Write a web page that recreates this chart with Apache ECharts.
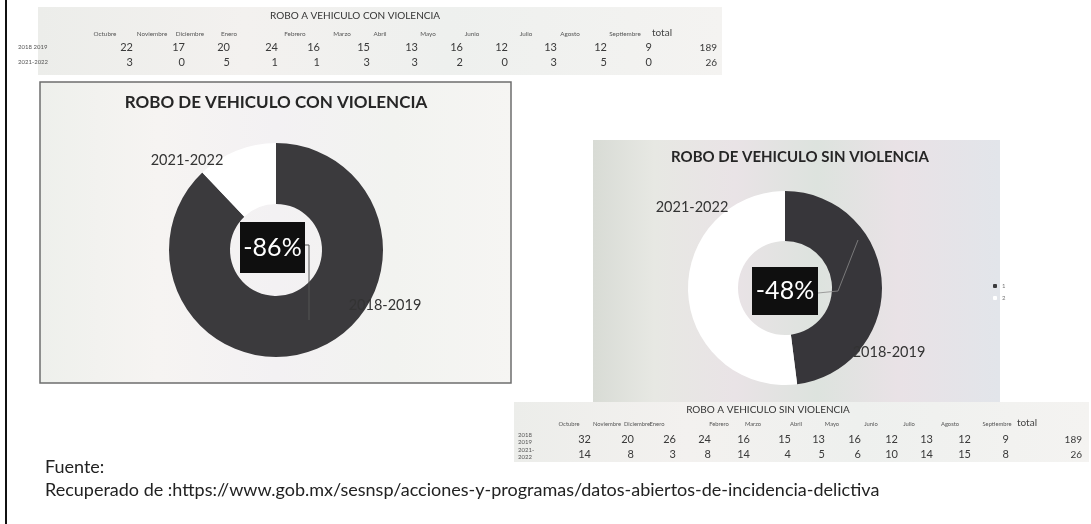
<!DOCTYPE html>
<html><head><meta charset="utf-8">
<script src="https://cdn.jsdelivr.net/npm/echarts@6/dist/echarts.min.js"></script>
<style>html,body{margin:0;padding:0;background:#fff}#c{width:1091px;height:524px}</style>
</head><body><div id="c"></div>
<script>
// ---------- DATA ----------
const months = ['Octubre','Noviembre','Diciembre','Enero','Febrero','Marzo','Abril','Mayo','Junio','Julio','Agosto','Septiembre'];
const periods = ['2018-2019','2021-2022'];
const conViol1819 = [22,17,20,24,16,15,13,16,12,13,12,9];
const conViol2122 = [3,0,5,1,1,3,3,2,0,3,5,0];
const conTotals = [189, 26];
const sinViol1819 = [32,20,26,24,16,15,13,16,12,13,12,9];
const sinViol2122 = [14,8,3,8,14,4,5,6,10,14,15,8];
const sinTotals = [189, 26];          // as printed in the source table
const donutConValues = [189, 26];
const donutSinValues = [48, 52];      // slice shares as drawn in the source image
const tableTitleCon = 'ROBO A VEHICULO CON VIOLENCIA';
const tableTitleSin = 'ROBO A VEHICULO SIN VIOLENCIA';
const chartTitleCon = 'ROBO DE VEHICULO CON VIOLENCIA';
const chartTitleSin = 'ROBO DE VEHICULO SIN VIOLENCIA';
const sourceLines = ['Fuente:', 'Recuperado de :https://www.gob.mx/sesnsp/acciones-y-programas/datos-abiertos-de-incidencia-delictiva'];

const sum = a => a.reduce((s, v) => s + v, 0);
const pctCon = Math.round((sum(conViol2122) - sum(conViol1819)) / sum(conViol1819) * 100) + '%';
const pctSin = Math.round((sum(sinViol2122) - sum(sinViol1819)) / sum(sinViol1819) * 100) + '%';

// ---------- LAYOUT ----------
const FONT = 'Lato, "Open Sans", sans-serif';
const topTable = {
  title: tableTitleCon, titleX: 355, titleY: 16, titleFont: 10, headerY: 34, headerFont: 6.3, rowY: [47, 62],
  headerX: [105,152,190,229,295,342,380,428,472,526,570,625], totalHeaderX: 662,
  valueRight: [133,185,230,278,320,370,418,463,508,557,607,652], totalRight: 717,
  labelX: 18, labels: [['2018 2019'], ['2021-2022']],
  rows: [conViol1819, conViol2122], totals: conTotals,
  bg: [38, 7, 684, 68]
};
const botTable = {
  title: tableTitleSin, titleX: 768, titleY: 410, titleFont: 10, headerY: 424, headerFont: 5.8, rowY: [439, 454],
  headerX: [569,607,637,657,719,753,796,832,871,909,950,997], totalHeaderX: 1027,
  valueRight: [591,634,676,711,750,791,825,861,898,933,971,1009], totalRight: 1082,
  labelX: 518, labels: [['2018','2019'], ['2021-','2022']],
  rows: [sinViol1819, sinViol2122], totals: sinTotals,
  bg: [514, 402, 575, 60]
};

function tableGraphics(t) {
  const g = [];
  g.push({type:'rect', shape:{x:t.bg[0], y:t.bg[1], width:t.bg[2], height:t.bg[3]},
    style:{fill:new echarts.graphic.LinearGradient(0,0,1,0,[
      {offset:0,color:'#ecedea'},{offset:0.3,color:'#f3f1ef'},{offset:0.6,color:'#eef0ee'},{offset:1,color:'#f4f3f1'}])}, z:0});
  g.push({type:'text', x:t.titleX, y:t.titleY, style:{text:t.title, font:t.titleFont+'px '+FONT, fill:'#333', align:'center', verticalAlign:'middle'}, z:2});
  months.forEach((m,i)=>g.push({type:'text', x:t.headerX[i], y:t.headerY,
    style:{text:m, font:t.headerFont+'px '+FONT, fill:'#555', align:'center', verticalAlign:'middle'}, z:2}));
  g.push({type:'text', x:t.totalHeaderX, y:t.headerY-1, style:{text:'total', font:'10px '+FONT, fill:'#444', align:'center', verticalAlign:'middle'}, z:2});
  t.rows.forEach((row,r)=>{
    const lab = t.labels[r];
    lab.forEach((l,k)=>g.push({type:'text', x:t.labelX, y:t.rowY[r] + (lab.length>1 ? (k-0.5)*7 : 0),
      style:{text:l, font:'6px '+FONT, fill:'#555', align:'left', verticalAlign:'middle'}, z:2}));
    row.forEach((v,i)=>g.push({type:'text', x:t.valueRight[i], y:t.rowY[r],
      style:{text:String(v), font:'11px '+FONT, fill:'#3a3a3a', align:'right', verticalAlign:'middle'}, z:2}));
    g.push({type:'text', x:t.totalRight, y:t.rowY[r]+1,
      style:{text:String(t.totals[r]), font:'10px '+FONT, fill:'#3a3a3a', align:'right', verticalAlign:'middle'}, z:2});
  });
  return g;
}

const box1 = {x:40, y:82, w:471, h:301};
const box2 = {x:593, y:140, w:407, h:263};
const labelPos = {
  0: {0:[385,305], 1:[187,160]},
  1: {0:[889,352], 1:[692,207]}
};

const graphics = [
  {type:'line', shape:{x1:6, y1:0, x2:6, y2:524}, style:{stroke:'#111', lineWidth:2}, z:5},
  {type:'rect', shape:{x:box1.x, y:box1.y, width:box1.w, height:box1.h},
    style:{fill:new echarts.graphic.LinearGradient(0,0,1,0,[
      {offset:0,color:'#eef0ec'},{offset:0.25,color:'#f6f4f2'},{offset:0.5,color:'#f3f1f3'},{offset:0.75,color:'#f2f3f0'},{offset:1,color:'#f6f5f3'}]),
      stroke:'#6e6e6e', lineWidth:1.5}, z:0},
  {type:'rect', shape:{x:box2.x, y:box2.y, width:box2.w, height:box2.h},
    style:{fill:new echarts.graphic.LinearGradient(0,0,1,0,[
      {offset:0,color:'#d8dbd5'},{offset:0.15,color:'#e7e8e3'},{offset:0.35,color:'#e9e3e6'},{offset:0.55,color:'#dde3de'},{offset:0.75,color:'#e9e2e6'},{offset:1,color:'#e2e5ea'}])}, z:0},
  {type:'text', x:276, y:103, style:{text:chartTitleCon, font:'bold 17px '+FONT, fill:'#262626', align:'center', verticalAlign:'middle'}, z:3},
  {type:'text', x:800, y:157, style:{text:chartTitleSin, font:'bold 15px '+FONT, fill:'#262626', align:'center', verticalAlign:'middle'}, z:3},
  // leader lines
  {type:'polyline', shape:{points:[[305,245],[309,245],[309,320]]}, style:{stroke:'#555', lineWidth:1, fill:null}, z:6},
  {type:'polyline', shape:{points:[[818,293],[838,291],[858,240]]}, style:{stroke:'#8a8a8a', lineWidth:0.8, fill:null}, z:6},
  // center percentage boxes
  {type:'rect', shape:{x:240, y:222, width:65, height:51}, style:{fill:'#0f0f0f'}, z:7},
  {type:'text', x:272.5, y:248, style:{text:pctCon, font:'25px '+FONT, fill:'#fff', align:'center', verticalAlign:'middle'}, z:8},
  {type:'rect', shape:{x:752, y:267, width:66, height:48}, style:{fill:'#0f0f0f'}, z:7},
  {type:'text', x:785, y:291, style:{text:pctSin, font:'25px '+FONT, fill:'#fff', align:'center', verticalAlign:'middle'}, z:8},
  // source
  {type:'text', x:45, y:467, style:{text:sourceLines[0], font:'18px '+FONT, fill:'#222', align:'left', verticalAlign:'middle'}, z:3},
  {type:'text', x:45, y:490, style:{text:sourceLines[1], font:'18px '+FONT, fill:'#222', align:'left', verticalAlign:'middle'}, z:3}
].concat(tableGraphics(topTable), tableGraphics(botTable));

const chart = echarts.init(document.getElementById('c'), null, {renderer:'canvas'});
const pieCommon = {
  type:'pie', startAngle:90, clockwise:true, avoidLabelOverlap:false, silent:true, animation:false,
  label:{show:true, position:'outside', formatter:'{b}', fontFamily:FONT, fontSize:14.5, color:'#333', align:'center', verticalAlign:'middle'},
  labelLine:{show:false},
  labelLayout: p => { const pos = labelPos[p.seriesIndex][p.dataIndex]; return {x:pos[0], y:pos[1], align:'center', verticalAlign:'middle'}; },
  z:4
};
chart.setOption({
  backgroundColor:'#ffffff',
  animation:false,
  legend:{
    data:periods, orient:'vertical', left:988, top:278, itemWidth:4, itemHeight:4, itemGap:6,
    formatter: n => String(periods.indexOf(n)+1),
    textStyle:{fontSize:6, color:'#777', fontFamily:FONT}, selectedMode:false
  },
  graphic: graphics,
  series:[
    Object.assign({}, pieCommon, {
      name:'con', center:[276,250], radius:[46,107],
      data: periods.map((p,i)=>({name:p, value:donutConValues[i],
        itemStyle:{color: i===0 ? '#3b3a3d' : '#ffffff'}}))
    }),
    Object.assign({}, pieCommon, {
      name:'sin', center:[785,288], radius:[47,97],
      data: periods.map((p,i)=>({name:p, value:donutSinValues[i],
        itemStyle:{color: i===0 ? '#37363a' : '#ffffff'}}))
    })
  ]
});
</script>
</body></html>
